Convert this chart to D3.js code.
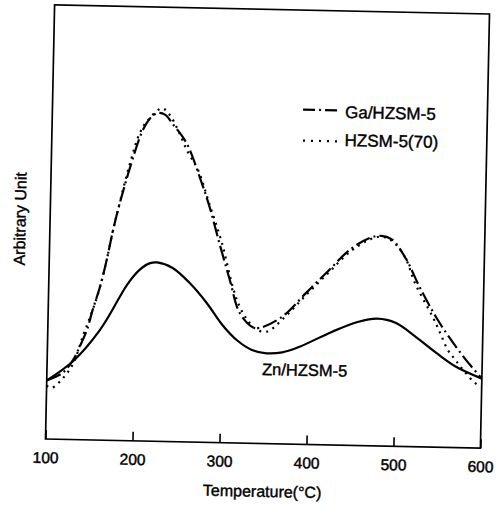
<!DOCTYPE html>
<html>
<head>
<meta charset="UTF-8" />
<title>TPD</title>
<script src="https://cdn.jsdelivr.net/npm/d3@7"></script>
<style>
body{margin:0;background:#fff;}
text{font-family:"Liberation Sans",Arial,sans-serif;fill:#000;}
</style>
</head>
<body>
<div id="svg_container"></div>
<script type="text/javascript">

var w=500,h=506;

// temperature ticks
var xTicks=[100,200,300,400,500,600];

// Ga/HZSM-5
var gaTemp=[100,118,130,137,145,151,159,166,172,178,184,190,204,212,221,230,238,255,271,283,295,308,320,335,343,369,396,422,445,467,481,494,510,526,546,561,581,600];
var gaVal=[13.5,15.3,18.4,21.4,25.3,29.9,35.3,41.5,47.8,53.3,58.0,62.5,71.4,74.2,75.6,75.2,73.3,68.8,61.0,54.2,46.0,37.5,30.0,26.8,26.6,29.3,34.9,40.3,45.0,47.8,48.4,47.5,43.2,36.9,29.9,25.5,20.3,16.0];

// HZSM-5(70)
var hzTemp=[100,106,119,130,141,151,159,166,172,178,190,201,210,226,235,245,256,269,283,298,312,320,329,340,352,370,396,422,445,467,481,494,509,521,542,551,560,569,580,592,600];
var hzVal=[12.3,11.8,14.2,17.5,24.2,29.9,35.3,41.5,47.8,53.3,63.5,70.9,73.9,76.7,75.2,71.7,67.0,62.6,54.7,46.0,35.6,31.4,28.4,26.2,25.8,28.8,34.4,39.8,44.5,47.4,48.2,47.2,43.5,37.6,30.0,26.3,22.5,20.2,17.5,15.0,14.2];

// Zn/HZSM-5
var znTemp=[100,130,160,182,190,204,216,224,242,262,282,301,318,335,352,370,389,427,457,478,500,523,547,570,600];
var znVal=[13.5,18.1,25.4,33.1,35.9,39.4,41.0,41.2,40.0,36.6,32.1,27.0,23.6,21.5,20.8,21.1,22.4,26.1,28.5,29.3,28.4,25.3,21.7,18.6,16.0];

var x=d3.scaleLinear().domain([100,600]).range([50,485]);
var y=d3.scaleLinear().domain([0,100]).range([443.6,9.4]);

var svg=d3.select('#svg_container')
          .append('svg')
          .attr('width',w)
          .attr('height',h);

svg.append('rect').attr('width',w).attr('height',h).attr('fill','#fff');

// scanned page is a little tilted
var g=svg.append('g').attr('transform','rotate(1.2,268,226.5)');

//frame
g.append('rect')
  .attr('x',x(100))
  .attr('y',y(100))
  .attr('width',x(600)-x(100))
  .attr('height',y(0)-y(100))
  .attr('fill','none')
  .attr('stroke','#000')
  .attr('stroke-width',1.7);

//x axis
var ax=g.append('g')
  .attr('transform','translate(0,'+y(0)+')')
  .call(d3.axisBottom(x).tickValues(xTicks).tickSize(-9).tickPadding(13).tickFormat(d3.format('d')));
ax.select('.domain').remove();
ax.selectAll('line').attr('stroke','#000').attr('stroke-width',1.6);
ax.selectAll('text')
  .style('font-size','15.5px')
  .attr('stroke','#000').attr('stroke-width',0.45);

g.append('text')
  .attr('x',267.7).attr('y',497)
  .attr('text-anchor','middle')
  .style('font-size','16px')
  .attr('stroke','#000').attr('stroke-width',0.4)
  .text('Temperature(°C)');

g.append('text')
  .attr('transform','translate(25.5,224) rotate(-90)')
  .attr('text-anchor','middle')
  .style('font-size','16px')
  .attr('stroke','#000').attr('stroke-width',0.4)
  .text('Arbitrary Unit');

//curves
function series(t,v){
  return t.map(function(d,i){return [d,v[i]];});
}
var line=d3.line()
  .x(function(d){return x(d[0]);})
  .y(function(d){return y(d[1]);})
  .curve(d3.curveCatmullRom.alpha(0.5));

g.append('path')
  .attr('d',line(series(znTemp,znVal)))
  .attr('fill','none').attr('stroke','#000').attr('stroke-width',2.2);

g.append('path')
  .attr('d',line(series(hzTemp,hzVal)))
  .attr('fill','none').attr('stroke','#000').attr('stroke-width',2.2)
  .attr('stroke-dasharray','2,5');

g.append('path')
  .attr('d',line(series(gaTemp,gaVal)))
  .attr('fill','none').attr('stroke','#000').attr('stroke-width',2.2)
  .attr('stroke-dasharray','15,4,2,4');

//legend
g.append('line')
  .attr('x1',300.6).attr('x2',336).attr('y1',108.9).attr('y2',108.9)
  .attr('stroke','#000').attr('stroke-width',2.2)
  .attr('stroke-dasharray','12,4,2,4');
g.append('text')
  .attr('x',342.7).attr('y',116.4)
  .style('font-size','17px')
  .attr('stroke','#000').attr('stroke-width',0.4)
  .text('Ga/HZSM-5');

g.append('line')
  .attr('x1',301.2).attr('x2',338).attr('y1',139.9).attr('y2',139.9)
  .attr('stroke','#000').attr('stroke-width',2.2)
  .attr('stroke-dasharray','2,6');
g.append('text')
  .attr('x',342.9).attr('y',144.4)
  .style('font-size','17px')
  .attr('stroke','#000').attr('stroke-width',0.4)
  .text('HZSM-5(70)');

g.append('text')
  .attr('x',265).attr('y',375)
  .style('font-size','16.5px')
  .attr('stroke','#000').attr('stroke-width',0.4)
  .text('Zn/HZSM-5');

</script>
</body>
</html>
